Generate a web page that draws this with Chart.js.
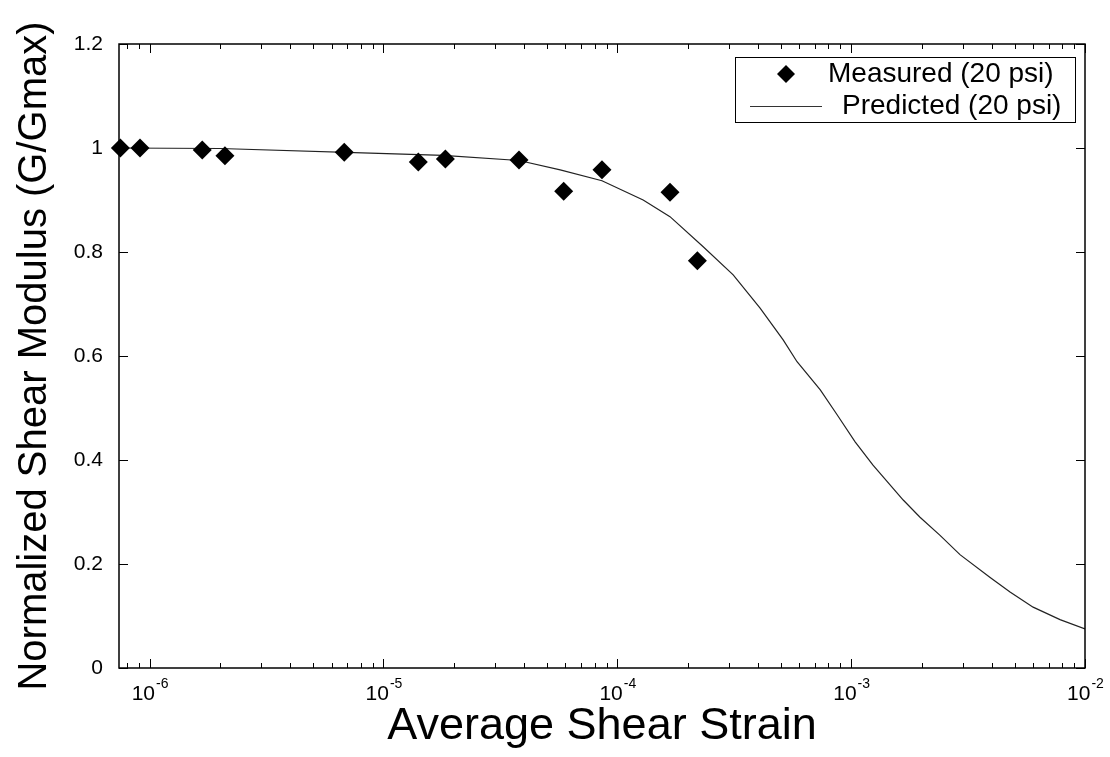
<!DOCTYPE html>
<html>
<head>
<meta charset="utf-8">
<title>Normalized Shear Modulus vs Average Shear Strain</title>
<script src="https://cdn.jsdelivr.net/npm/chart.js@4.4.1/dist/chart.umd.min.js"></script>
<style>
  html, body { margin: 0; padding: 0; background: #fff; }
  #wrap { width: 1110px; height: 757px; position: relative; }
</style>
</head>
<body>
<div id="wrap"><canvas id="chart"></canvas></div>
<script>
// measured points (strain, G/Gmax)
const measuredStrain = [7.5e-7, 9.1e-7, 1.68e-6, 2.1e-6, 6.8e-6, 1.41e-5, 1.84e-5, 3.8e-5, 5.9e-5, 8.6e-5, 1.68e-4, 2.2e-4];
const measuredG = [1.0, 1.0, 0.996, 0.985, 0.992, 0.973, 0.979, 0.977, 0.917, 0.958, 0.915, 0.783];

// predicted curve
const predictedStrain = [7.4e-7, 2e-6, 8.8e-6, 1.8e-5, 3.8e-5, 5.7e-5, 8.6e-5, 1.29e-4, 1.68e-4, 2.33e-4, 3.13e-4, 4.08e-4,
  5.12e-4, 5.87e-4, 7.38e-4, 8.71e-4, 1.04e-3, 1.24e-3, 1.67e-3, 1.97e-3, 2.4e-3, 2.92e-3, 3.93e-3, 4.78e-3, 6.0e-3, 7.82e-3, 1e-2];
const predictedG = [1.0, 0.999, 0.99, 0.986, 0.976, 0.958, 0.937, 0.9, 0.868, 0.81, 0.756, 0.692,
  0.631, 0.589, 0.535, 0.487, 0.435, 0.39, 0.323, 0.29, 0.255, 0.218, 0.174, 0.146, 0.117, 0.093, 0.075];

const xMin = 7.4e-7, xMax = 1e-2;
const yTicks = [0, 0.2, 0.4, 0.6, 0.8, 1, 1.2];
const xExponents = [-6, -5, -4, -3, -2];

const legendLabels = ['Measured (20 psi)', 'Predicted (20 psi)'];
const FONT = 'Arial, "Liberation Sans", sans-serif';

// matlab-ish frame: box, inward ticks, superscript x labels, legend
const framePlugin = {
  id: 'frame',
  beforeDraw(chart) {
    const ctx = chart.ctx;
    ctx.save();
    ctx.fillStyle = '#fff';
    ctx.fillRect(0, 0, chart.width, chart.height);
    ctx.restore();
  },
  afterDraw(chart) {
    const ctx = chart.ctx;
    const a = chart.chartArea;
    const xs = chart.scales.x, ys = chart.scales.y;
    ctx.save();
    ctx.strokeStyle = '#000';
    ctx.lineWidth = 1.5;
    ctx.strokeRect(a.left, a.top, a.right - a.left, a.bottom - a.top);

    ctx.lineWidth = 1;
    ctx.beginPath();
    // x ticks (major + minor) bottom and top
    for (let e = -7; e <= -2; e++) {
      for (let m = 1; m <= 9; m++) {
        const v = m * Math.pow(10, e);
        if (v < xMin || v > xMax * 1.0001) continue;
        const px = Math.round(xs.getPixelForValue(v)) + 0.5;
        const len = m === 1 ? 9 : 5;
        ctx.moveTo(px, a.bottom); ctx.lineTo(px, a.bottom - len);
        ctx.moveTo(px, a.top); ctx.lineTo(px, a.top + len);
      }
    }
    // y ticks left and right
    yTicks.forEach(v => {
      const py = Math.round(ys.getPixelForValue(v)) + 0.5;
      ctx.moveTo(a.left, py); ctx.lineTo(a.left + 9, py);
      ctx.moveTo(a.right, py); ctx.lineTo(a.right - 9, py);
    });
    ctx.stroke();

    // x tick labels 10^n
    ctx.fillStyle = '#000';
    ctx.textBaseline = 'alphabetic';
    xExponents.forEach(e => {
      const px = xs.getPixelForValue(Math.pow(10, e));
      ctx.font = '21px ' + FONT;
      const baseW = ctx.measureText('10').width;
      ctx.font = '14px ' + FONT;
      const expTxt = String(e);
      const expW = ctx.measureText(expTxt).width;
      const start = px - (baseW + expW) / 2;
      ctx.font = '21px ' + FONT;
      ctx.textAlign = 'left';
      ctx.fillText('10', start, 700);
      ctx.font = '14px ' + FONT;
      ctx.fillText(expTxt, start + baseW + 1, 688);
    });

    // legend
    const box = { l: 735, r: 1075, t: 57, b: 122 };
    ctx.fillStyle = '#fff';
    ctx.fillRect(box.l, box.t, box.r - box.l, box.b - box.t);
    ctx.lineWidth = 1;
    ctx.strokeStyle = '#000';
    ctx.strokeRect(box.l + 0.5, box.t + 0.5, box.r - box.l, box.b - box.t);
    const row1 = 74, row2 = 106;
    ctx.fillStyle = '#000';
    ctx.beginPath();
    ctx.moveTo(786 - 9, row1); ctx.lineTo(786, row1 - 9);
    ctx.lineTo(786 + 9, row1); ctx.lineTo(786, row1 + 9);
    ctx.closePath();
    ctx.fill();
    ctx.beginPath();
    ctx.strokeStyle = '#333';
    ctx.moveTo(750, row2 + 0.5); ctx.lineTo(822, row2 + 0.5);
    ctx.stroke();
    ctx.font = '28px ' + FONT;
    ctx.textAlign = 'left';
    ctx.textBaseline = 'middle';
    ctx.fillText(legendLabels[0], 828, row1);
    ctx.fillText(legendLabels[1], 842, row2);
    ctx.restore();
  }
};

new Chart(document.getElementById('chart'), {
  type: 'scatter',
  data: {
    datasets: [
      {
        label: legendLabels[0],
        data: measuredStrain.map((x, i) => ({ x: x, y: measuredG[i] })),
        pointStyle: 'rectRot',
        pointRadius: 9.5,
        pointHoverRadius: 9.5,
        backgroundColor: '#000',
        borderColor: '#000',
        borderWidth: 0,
        showLine: false,
        clip: false,
        order: 1
      },
      {
        label: legendLabels[1],
        data: predictedStrain.map((x, i) => ({ x: x, y: predictedG[i] })),
        showLine: true,
        borderColor: '#222',
        borderWidth: 1.2,
        pointRadius: 0,
        tension: 0,
        order: 2
      }
    ]
  },
  options: {
    responsive: true,
    maintainAspectRatio: false,
    animation: false,
    events: [],
    layout: { padding: { top: 44, right: 25, left: 0, bottom: 0 } },
    plugins: {
      legend: { display: false },
      tooltip: { enabled: false }
    },
    scales: {
      x: {
        type: 'logarithmic',
        min: xMin,
        max: xMax,
        grid: { display: false },
        border: { display: false },
        ticks: { display: false },
        title: {
          display: true,
          text: 'Average Shear Strain',
          color: '#000',
          font: { family: FONT, size: 45, lineHeight: 1 },
          padding: { top: 0, bottom: 8 }
        },
        afterFit(scale) { scale.height = 89; }
      },
      y: {
        min: 0,
        max: 1.2,
        grid: { display: false },
        border: { display: false },
        ticks: {
          stepSize: 0.2,
          color: '#000',
          padding: 8,
          font: { family: FONT, size: 21 },
          callback: v => String(Math.round(v * 10) / 10)
        },
        title: {
          display: true,
          text: 'Normalized Shear Modulus (G/Gmax)',
          color: '#000',
          font: { family: FONT, size: 40, lineHeight: 1 },
          padding: { top: 15, bottom: 0 }
        },
        afterFit(scale) { scale.width = 119; }
      }
    }
  },
  plugins: [framePlugin]
});
</script>
</body>
</html>
